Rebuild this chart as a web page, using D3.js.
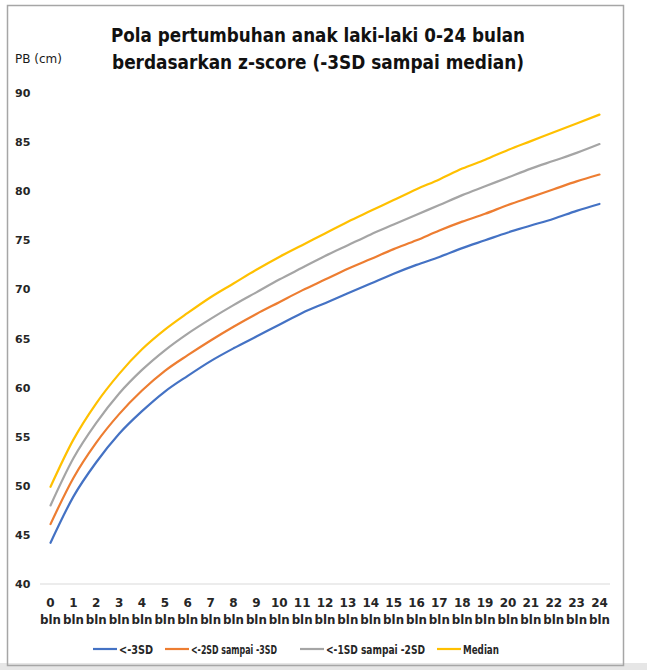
<!DOCTYPE html>
<html>
<head>
<meta charset="utf-8">
<script src="https://cdn.jsdelivr.net/npm/d3@7"></script>
<style>
  body { margin: 0; background: #fff; }
  text { font-family: "DejaVu Sans", sans-serif; }
</style>
</head>
<body>
<svg id="chart" width="647" height="670"></svg>
<script>
// bulan 0..24
const months = d3.range(0, 25);
const monthLabels = months.map(m => String(m));
const yTicks = [40, 45, 50, 55, 60, 65, 70, 75, 80, 85, 90];

// WHO panjang badan laki-laki
const sd3neg = [44.2, 48.9, 52.4, 55.3, 57.6, 59.6, 61.2, 62.7, 64.0, 65.2, 66.4, 67.6, 68.6, 69.6, 70.6, 71.6, 72.5, 73.3, 74.2, 75.0, 75.8, 76.5, 77.2, 78.0, 78.7];
const sd2neg = [46.1, 50.8, 54.4, 57.3, 59.7, 61.7, 63.3, 64.8, 66.2, 67.5, 68.7, 69.9, 71.0, 72.1, 73.1, 74.1, 75.0, 76.0, 76.9, 77.7, 78.6, 79.4, 80.2, 81.0, 81.7];
const sd1neg = [48.0, 52.8, 56.4, 59.4, 61.8, 63.8, 65.5, 67.0, 68.4, 69.7, 71.0, 72.2, 73.4, 74.5, 75.6, 76.6, 77.6, 78.6, 79.6, 80.5, 81.4, 82.3, 83.1, 83.9, 84.8];
const median = [49.9, 54.7, 58.4, 61.4, 63.9, 65.9, 67.6, 69.2, 70.6, 72.0, 73.3, 74.5, 75.7, 76.9, 78.0, 79.1, 80.2, 81.2, 82.3, 83.2, 84.2, 85.1, 86.0, 86.9, 87.8];

const seriesNames = ["<-3SD", "<-2SD sampai -3SD", "<-1SD sampai -2SD", "Median"];
const seriesColors = ["#4472C4", "#ED7D31", "#A5A5A5", "#FFC000"];
const seriesValues = [sd3neg, sd2neg, sd1neg, median];

const svg = d3.select("#chart");

// bingkai
svg.append("rect").attr("width", 647).attr("height", 670).attr("fill", "#fff");
svg.append("rect").attr("x", 0).attr("y", 663).attr("width", 647).attr("height", 7).attr("fill", "#e6e6e6");
svg.append("rect")
    .attr("x", 7.5).attr("y", 5.5).attr("width", 616).attr("height", 660)
    .attr("fill", "none").attr("stroke", "#a6a6a6").attr("stroke-width", 1.5);

const left = 40, right = 610;
const x = d3.scalePoint()
    .domain(months)
    .range([left, right])
    .padding(0.46);
const y = d3.scaleLinear()
    .domain([40, 90])
    .range([584, 93]);

// garis dasar
svg.append("line")
    .attr("x1", left).attr("x2", right)
    .attr("y1", y(40)).attr("y2", y(40))
    .attr("stroke", "#d9d9d9").attr("stroke-width", 1);

// sumbu y
svg.append("g")
    .selectAll("text")
    .data(yTicks)
    .join("text")
    .attr("x", 15)
    .attr("y", d => y(d) + 4)
    .attr("font-size", 11)
    .attr("font-weight", "bold")
    .attr("fill", "#262626")
    .text(d => d);

svg.append("text")
    .attr("x", 15).attr("y", 63)
    .attr("font-size", 12)
    .attr("fill", "#1a1a1a")
    .text("PB (cm)");

// sumbu x
const xg = svg.append("g")
    .selectAll("g")
    .data(months)
    .join("g")
    .attr("transform", d => `translate(${x(d)},0)`);
xg.append("text")
    .attr("y", 607)
    .attr("text-anchor", "middle")
    .attr("font-size", 12)
    .attr("font-weight", "bold")
    .attr("fill", "#262626")
    .text((d, i) => monthLabels[i]);
xg.append("text")
    .attr("y", 624)
    .attr("text-anchor", "middle")
    .attr("font-size", 11.5)
    .attr("font-weight", "bold")
    .attr("fill", "#262626")
    .attr("textLength", 21)
    .attr("lengthAdjust", "spacingAndGlyphs")
    .text("bln");

// garis seri
const line = d3.line()
    .x((d, i) => x(months[i]))
    .y(d => y(d))
    .curve(d3.curveMonotoneX);

svg.append("g")
    .selectAll("path")
    .data(seriesValues)
    .join("path")
    .attr("d", d => line(d))
    .attr("fill", "none")
    .attr("stroke", (d, i) => seriesColors[i])
    .attr("stroke-width", 2.2)
    .attr("stroke-linecap", "round");

// judul
const title = svg.append("g")
    .attr("font-size", 20)
    .attr("font-weight", "bold")
    .attr("fill", "#111")
    .attr("text-anchor", "middle");
title.append("text")
    .attr("x", 318).attr("y", 42)
    .attr("textLength", 414)
    .attr("lengthAdjust", "spacingAndGlyphs")
    .text("Pola pertumbuhan anak laki-laki 0-24 bulan");
title.append("text")
    .attr("x", 318).attr("y", 69)
    .attr("textLength", 412)
    .attr("lengthAdjust", "spacingAndGlyphs")
    .text("berdasarkan z-score (-3SD sampai median)");

// legenda
const legendX = [93, 165, 300, 437];
const legendW = [34, 86, 99, 36];
const lg = svg.append("g")
    .selectAll("g")
    .data(seriesNames)
    .join("g")
    .attr("transform", (d, i) => `translate(${legendX[i]},649)`);
lg.append("line")
    .attr("x1", 0).attr("x2", 24)
    .attr("stroke", (d, i) => seriesColors[i])
    .attr("stroke-width", 2.2);
lg.append("text")
    .attr("x", 26).attr("y", 4.5)
    .attr("font-size", 12)
    .attr("font-weight", "bold")
    .attr("fill", "#262626")
    .attr("textLength", (d, i) => legendW[i])
    .attr("lengthAdjust", "spacingAndGlyphs")
    .text(d => d);
</script>
</body>
</html>
